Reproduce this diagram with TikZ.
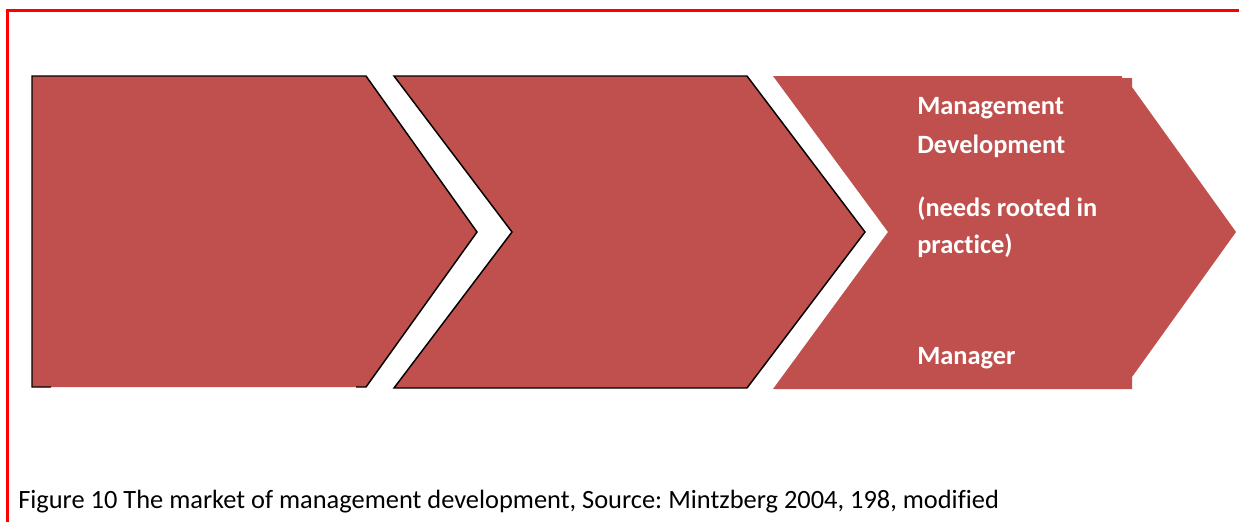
\documentclass[tikz,border=0pt]{standalone}
\usepackage{fontspec}
\setmainfont[Ligatures=NoCommon]{Carlito}
\frenchspacing
\definecolor{chev}{HTML}{C0504D}
\definecolor{frame}{HTML}{FF0000}
\begin{document}
\begin{tikzpicture}[x=0.75pt,y=-0.75pt,
  chevfill/.style={fill=chev,draw=none},
  outline/.style={draw=black,line width=1.1pt,line join=miter},
  labeltext/.style={anchor=base west,inner sep=0pt,text=white,font=\fontsize{19.8pt}{23pt}\selectfont\bfseries},
  captext/.style={anchor=base west,inner sep=0pt,text=black,font=\fontsize{19.8pt}{23pt}\selectfont}]
\useasboundingbox (0,0) rectangle (1239,522);
% frame
\draw[frame,line width=2.4pt] (7.5,522) -- (7.5,10.5) -- (1239,10.5);
% chevron 1
\fill[chevfill] (32,76) -- (366,76) -- (477,232) -- (366,387) -- (32,387) -- cycle;
\draw[outline] (51,387) -- (32,387) -- (32,76) -- (366,76) -- (477,232) -- (366,387) -- (356,387);
% chevron 2
\fill[chevfill] (394,76) -- (747,76) -- (865,232) -- (747,388) -- (394,388) -- (512,232) -- cycle;
\draw[outline] (394,76) -- (747,76) -- (865,232) -- (747,388) -- (394,388) -- (512,232) -- cycle;
% chevron 3
\fill[chevfill] (773,76) -- (1122,76) -- (1122,78) -- (1132,78) -- (1132,87) -- (1236,232) -- (1132,377) -- (1132,389) -- (773,389) -- (888,232) -- cycle;
% labels
\node[labeltext] (l1) at (917,114) {Management};
\node[labeltext] (l2) at (917,153) {Development};
\node[labeltext] (l3) at (917,216) {(needs rooted in};
\node[labeltext] (l4) at (917,253) {practice)};
\node[labeltext] (l5) at (917,364) {Manager};
% caption
\node[captext] (cap) at (18,508) {Figure 10 The market of management development, Source: Mintzberg 2004, 198, modified};
\end{tikzpicture}
\end{document}
